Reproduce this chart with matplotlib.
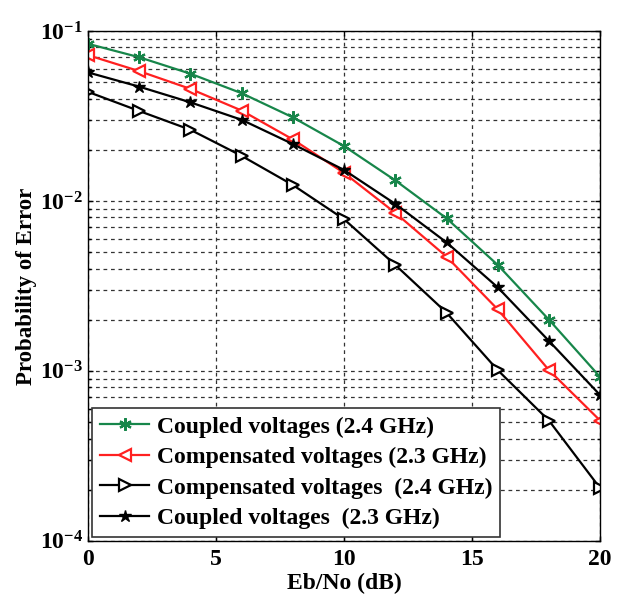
import matplotlib
matplotlib.use("Agg")
import matplotlib.pyplot as plt
from matplotlib.ticker import LogLocator, NullFormatter

ebno = [0, 2, 4, 6, 8, 10, 12, 14, 16, 18, 20]
coupled_24 = [0.084, 0.070, 0.056, 0.043, 0.031, 0.021, 0.0132, 0.0079, 0.0042, 0.0020, 0.00092]
comp_23 = [0.072, 0.058, 0.0456, 0.034, 0.023, 0.0146, 0.0085, 0.0047, 0.0023, 0.00101, 0.00051]
comp_24 = [0.0438, 0.0338, 0.0262, 0.0184, 0.0124, 0.0078, 0.0042, 0.0022, 0.00101, 0.00051, 0.000204]
coupled_23 = [0.057, 0.047, 0.038, 0.030, 0.0216, 0.0152, 0.0096, 0.0057, 0.0031, 0.0015, 0.00072]

labels = ["Coupled voltages (2.4 GHz)", "Compensated voltages (2.3 GHz)",
          "Compensated voltages  (2.4 GHz)", "Coupled voltages  (2.3 GHz)"]

plt.rcParams['font.family'] = ['Liberation Serif', 'DejaVu Serif']
plt.rcParams['font.weight'] = 'bold'

fig = plt.figure(figsize=(6.2, 5.95), dpi=100)
ax = fig.add_axes([0.142, 0.091, 0.826, 0.857])

green = '#17864a'
ax.plot(ebno, coupled_24, color=green, lw=1.6, marker=(6, 2, 0), ms=9, mew=1.6, label=labels[0])
ax.plot(ebno, comp_23, color='#ff2020', lw=1.6, marker='<', ms=9, mfc='white', mew=1.6, label=labels[1])
ax.plot(ebno, comp_24, color='black', lw=1.6, marker='>', ms=9, mfc='white', mew=1.6, label=labels[2])
ax.plot(ebno, coupled_23, color='black', lw=1.6, marker='*', ms=9, mfc='black', mew=1.0, label=labels[3])

ax.set_yscale('log')
ax.set_xlim(0, 20)
ax.set_ylim(1e-4, 1e-1)
ax.set_xticks([0, 5, 10, 15, 20])
ax.yaxis.set_major_locator(LogLocator(base=10, numticks=10))
ax.yaxis.set_minor_locator(LogLocator(base=10, subs=range(2, 10), numticks=20))
ax.yaxis.set_minor_formatter(NullFormatter())
ax.grid(True, which='major', linestyle=(0, (3, 3)), color='#333333', lw=0.9)
ax.grid(True, which='minor', axis='y', linestyle=(0, (3, 3)), color='#333333', lw=0.9)
ax.tick_params(direction='in', which='both', top=True, right=True, labelsize=17, width=1)
ax.tick_params(axis='x', pad=6)
for lab in ax.get_xticklabels() + ax.get_yticklabels():
    lab.set_fontweight('bold')
for s in ax.spines.values():
    s.set_linewidth(1.0)

ax.set_xlabel('Eb/No (dB)', fontsize=17, fontweight='bold', labelpad=2)
ax.set_ylabel('Probability of Error', fontsize=16.5, fontweight='bold', labelpad=2)

leg = ax.legend(loc='lower left', bbox_to_anchor=(0.0, 0.0), frameon=True,
                fancybox=False, edgecolor='#333333', framealpha=1, borderaxespad=0.15,
                handlelength=2.1, handletextpad=0.3, labelspacing=0.38, borderpad=0.35,
                prop={'weight': 'bold', 'size': 17})
leg.get_frame().set_linewidth(1.2)

fig.savefig('out.png', dpi=100)
